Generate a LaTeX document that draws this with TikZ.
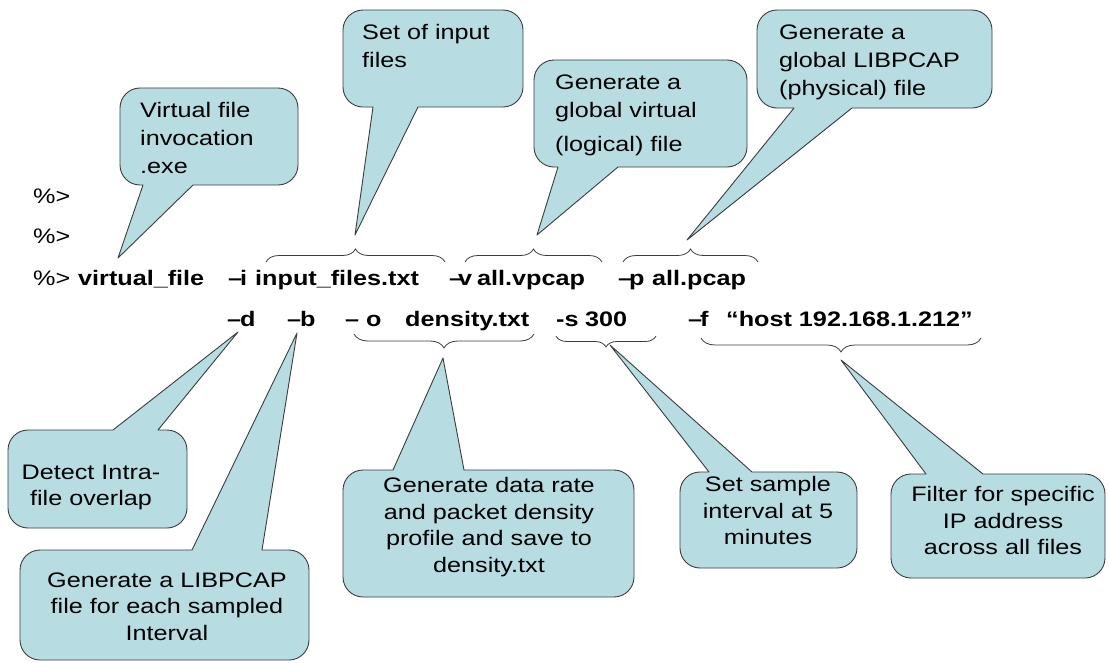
\documentclass[tikz,border=0pt]{standalone}
\usepackage{fontspec}
\setmainfont{Liberation Sans}[FakeStretch=1.2]
\usetikzlibrary{decorations.pathreplacing}
\definecolor{calloutfill}{RGB}{183,221,227}
\definecolor{calloutline}{RGB}{60,60,60}

% balloon with its pointer leaving the bottom edge: x1,y1,x2,y2,base-left,base-right,tip
\newcommand\upperballoon[7]{%
  \path[callout] (#7) -- (#6,#4) -- ({#3-20},#4) .. controls ({#3-9},#4) and (#3,{#4-9}) .. (#3,{#4-20})
    -- (#3,{#2+20}) .. controls (#3,{#2+9}) and ({#3-9},#2) .. ({#3-20},#2)
    -- ({#1+20},#2) .. controls ({#1+9},#2) and (#1,{#2+9}) .. (#1,{#2+20})
    -- (#1,{#4-20}) .. controls (#1,{#4-9}) and ({#1+9},#4) .. ({#1+20},#4) -- (#5,#4) -- cycle;}
% balloon with its pointer leaving the top edge
\newcommand\lowerballoon[7]{%
  \path[callout] (#7) -- (#6,#2) -- ({#3-20},#2) .. controls ({#3-9},#2) and (#3,{#2+9}) .. (#3,{#2+20})
    -- (#3,{#4-20}) .. controls (#3,{#4-9}) and ({#3-9},#4) .. ({#3-20},#4)
    -- ({#1+20},#4) .. controls ({#1+9},#4) and (#1,{#4-9}) .. (#1,{#4-20})
    -- (#1,{#2+20}) .. controls (#1,{#2+9}) and ({#1+9},#2) .. ({#1+20},#2) -- (#5,#2) -- cycle;}

\tikzset{
  callout/.style={fill=calloutfill, draw=calloutline, line width=0.9pt, line join=round},
  ctext/.style={inner sep=0pt, anchor=north, align=center, font=\fontsize{21}{26.5}\selectfont},
  ltext/.style={inner sep=0pt, anchor=north west, align=left, font=\fontsize{21}{28}\selectfont},
  cmd/.style={inner sep=0pt, anchor=base west, font=\fontsize{21}{26}\selectfont\bfseries},
  prompt/.style={inner sep=0pt, anchor=base west, font=\fontsize{21}{26}\selectfont},
  bracket/.style={draw=calloutline, line width=0.8pt, decorate, decoration={brace, amplitude=#1}},
  bracket/.default=13,
}

\begin{document}
\begin{tikzpicture}[x=1pt,y=-1pt]
\useasboundingbox (0,0) rectangle (1109,662);

% pointer tips
\coordinate (tipA) at (118,258);
\coordinate (tipB) at (355,235);
\coordinate (tipC) at (537,235);
\coordinate (tipD) at (687,240);
\coordinate (tipE) at (238,332);
\coordinate (tipF) at (297,333);
\coordinate (tipG) at (443,358);
\coordinate (tipH) at (610,345);
\coordinate (tipI) at (841,360);

% balloons above the command line
\upperballoon{120}{88}{298}{185}{143}{193}{tipA}
\upperballoon{343}{10}{523}{107}{373}{418}{tipB}
\upperballoon{534}{60}{747}{167}{558}{618}{tipC}
\upperballoon{757}{10}{992}{108}{794}{852}{tipD}

% balloons below the command line
\lowerballoon{8}{430}{187}{528}{113}{158}{tipE}
\lowerballoon{20}{550}{309}{660}{192}{262}{tipF}
\lowerballoon{343}{470}{634}{597}{393}{464}{tipG}
\lowerballoon{680}{472}{857}{568}{709}{752}{tipH}
\lowerballoon{891}{474}{1105}{578}{926}{983}{tipI}

% balloon texts
\node[ltext] (tA) at (140,102.5) {Virtual file\\invocation\\.exe};
\node[ltext] (tB) at (362,24.5) {Set of input\\files};
\node[ltext] (tC) at (555,74.5) {Generate a\\global virtual\\[6pt](logical) file};
\node[ltext] (tD) at (779,24.5) {Generate a\\global LIBPCAP\\(physical) file};
\node[ctext] (tE) at (91,464.5) {Detect Intra-\\file overlap};
\node[ctext] (tF) at (167,572.5) {Generate a LIBPCAP\\file for each sampled\\Interval};
\node[ctext] (tG) at (489,477.5) {Generate data rate\\and packet density\\profile and save to\\density.txt};
\node[ctext] (tH) at (768,476.5) {Set sample\\interval at 5\\minutes};
\node[ctext] (tI) at (1003,486.5) {Filter for specific\\IP address\\across all files};

% command prompt lines
\node[prompt] (p1) at (33,203) {\%>};
\node[prompt] (p2) at (33,243) {\%>};
\node[prompt] (p3) at (33,285) {\%>};
\node[cmd] (c1) at (78,285) {virtual\_file};
\node[cmd] (c2) at (228,285) {–\kern-2pt i};
\node[cmd] (c3) at (255,285) {input\_files.txt};
\node[cmd] (c4) at (449,285) {–\kern-5pt v};
\node[cmd] (c5) at (477,285) {all.vpcap};
\node[cmd] (c6) at (618,285) {–\kern-3pt p};
\node[cmd] (c7) at (652,285) {all.pcap};

\node[cmd] (d1) at (227,326) {–\kern-1pt d};
\node[cmd] (d2) at (287,326) {–\kern-1pt b};
\node[cmd] (d3) at (345,326) {– o};
\node[cmd] (d4) at (405,326) {density.txt};
\node[cmd] (d5) at (556,326) {-s};
\node[cmd] (d6) at (585,326) {300};
\node[cmd] (d7) at (688,326) {–\kern-2pt f};
\node[cmd] (d8) at (726,326) {“host 192.168.1.212”};

% braces grouping the options
\draw[bracket] (266,262) -- (445,262);
\draw[bracket] (465,262) -- (602,262);
\draw[bracket] (623,262) -- (758,262);
\draw[bracket=14] (534,334) -- (354,334);
\draw[bracket=11] (656,336) -- (556,336);
\draw[bracket=14] (981,338) -- (701,338);
\end{tikzpicture}
\end{document}
